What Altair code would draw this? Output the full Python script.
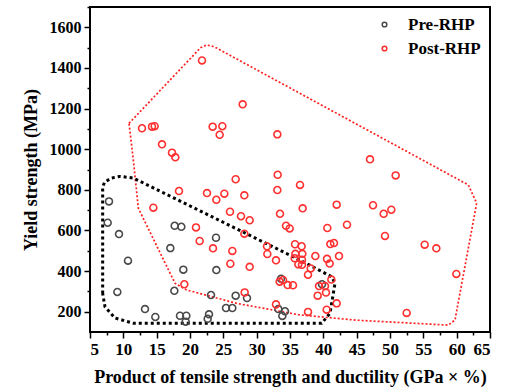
import altair as alt
import pandas as pd

# Pre-RHP samples: product of tensile strength and ductility (GPa·%) vs yield strength (MPa)
pre_pst = [7.85, 7.65, 9.35, 10.7, 9.1, 13.25, 14.8, 17.7, 18.7, 17.05, 19.0, 17.65,
           18.5, 19.45, 19.35, 23.9, 23.95, 23.15, 22.85, 22.65, 25.4, 26.35, 26.85,
           28.55, 33.65, 33.25, 34.25, 33.85, 39.8]
pre_ys = [743, 638, 582, 451, 297, 213, 174, 623, 618, 513, 407, 303,
          180, 180, 151, 564, 405, 282, 187, 165, 218, 218, 279,
          267, 362, 213, 202, 179, 335]

# Post-RHP samples
post_pst = [21.8, 27.9, 12.8, 14.3, 14.7, 23.4, 24.85, 24.45, 33.1, 15.8, 17.3, 17.8,
            33.15, 26.85, 18.35, 22.55, 25.15, 23.95, 28.15, 33.1, 36.5, 14.5, 26.0,
            27.65, 28.95, 33.5, 34.4, 34.95, 20.9, 21.45, 23.45, 26.35, 28.15, 26.05,
            28.95, 31.55, 31.6, 32.9, 35.75, 36.75, 35.8, 36.85, 35.7, 36.8, 36.25,
            36.8, 19.15, 28.2, 32.9, 33.45, 33.95, 34.65, 35.45, 36.9, 50.85, 42.0,
            47.45, 49.05, 50.2, 40.6, 43.55, 49.25, 41.05, 41.6, 38.8, 40.55, 40.95,
            42.35, 38.1, 37.7, 41.2, 39.35, 40.25, 40.4, 39.15, 42.0, 37.7, 40.5,
            52.5, 55.2, 56.95, 59.95, 47.0]
post_ys = [1437, 1221, 1103, 1111, 1113, 1111, 1113, 1071, 1073, 1024, 983, 960,
           874, 852, 794, 784, 781, 751, 773, 799, 824, 712, 692,
           670, 650, 682, 623, 610, 615, 548, 512, 499, 584, 436,
           421, 522, 484, 453, 532, 522, 485, 485, 463, 456, 433,
           431, 335, 295, 236, 348, 356, 331, 330, 709, 871, 727,
           724, 682, 702, 612, 628, 573, 533, 538, 474, 460, 437,
           474, 413, 382, 358, 326, 326, 294, 279, 241, 199, 210,
           194, 530, 512, 386, 950]

# Outline of the Pre-RHP region (closed path)
pre_hull_x = [6.9, 6.9, 7.2, 8.2, 9.5, 11.5, 36.5, 41.25, 41.75, 41.0, 39.75,
              11.5, 8.75, 7.25, 6.9]
pre_hull_y = [290, 815, 838, 858, 866, 858, 454, 372, 340, 192, 143,
              143, 169, 224, 290]

# Outline of the Post-RHP region (closed path)
post_hull_x = [10.85, 21.6, 22.5, 23.6, 61.75, 63.0, 59.75, 58.75, 45.0, 36.3,
               27.0, 19.5, 17.75, 12.25, 11.5, 10.85]
post_hull_y = [1127, 1500, 1513, 1505, 824, 734, 159, 134, 158, 185,
               241, 307, 340, 709, 947, 1127]

groups = ["Pre-RHP", "Post-RHP"]
colors = ["#4a4a4a", "#ff3030"]

points = pd.concat([
    pd.DataFrame({"pst": pre_pst, "ys": pre_ys, "group": groups[0]}),
    pd.DataFrame({"pst": post_pst, "ys": post_ys, "group": groups[1]}),
], ignore_index=True)

pre_hull = pd.DataFrame({"pst": pre_hull_x, "ys": pre_hull_y,
                         "order": range(len(pre_hull_x))})
post_hull = pd.DataFrame({"pst": post_hull_x, "ys": post_hull_y,
                          "order": range(len(post_hull_x))})

FONT = "Liberation Serif"

# major ticks carry labels, the ones in between are short minor ticks
x_ticks = [5 + 2.5 * i for i in range(25)]
y_ticks = [100 * i for i in range(2, 18)]

x_scale = alt.Scale(domain=[5, 65], nice=False, zero=False)
y_scale = alt.Scale(domain=[100, 1700], nice=False, zero=False)

x_axis = alt.Axis(
    title="Product of tensile strength and ductility (GPa × %)",
    values=x_ticks,
    labelExpr="datum.value % 5 == 0 ? format(datum.value, 'd') : ''",
    labelOverlap=False, labelSeparation=0, labelBound=False, labelFontSize=17,
    tickSize={"condition": {"test": "datum.value % 5 == 0", "value": 6}, "value": 3},
    grid=False, domain=False, labelPadding=3, titlePadding=11,
)
y_axis = alt.Axis(
    title="Yield strength (MPa)",
    values=y_ticks,
    labelExpr="datum.value % 200 == 0 ? format(datum.value, 'd') : ''",
    labelOverlap=False, labelSeparation=0, labelBound=False, labelFontSize=16,
    tickSize={"condition": {"test": "datum.value % 200 == 0", "value": 6}, "value": 3},
    grid=False, domain=False, labelPadding=3, titlePadding=9,
)

scatter = alt.Chart(points).mark_point(shape="circle", filled=False, size=48,
                                       strokeWidth=1.6, opacity=1).encode(
    x=alt.X("pst:Q", scale=x_scale, axis=x_axis),
    y=alt.Y("ys:Q", scale=y_scale, axis=y_axis),
    color=alt.Color("group:N",
                    scale=alt.Scale(domain=groups, range=colors),
                    legend=alt.Legend(title=None, orient="none", legendX=286, legendY=9,
                                      symbolSize=22, symbolStrokeWidth=1.5,
                                      labelFontSize=17, labelFont=FONT,
                                      labelFontWeight="bold", labelColor="black",
                                      labelOffset=15, rowPadding=6)),
)

pre_line = alt.Chart(pre_hull).mark_line(color="black", strokeWidth=3,
                                         strokeDash=[3, 3], clip=True).encode(
    x=alt.X("pst:Q", scale=x_scale, axis=x_axis),
    y=alt.Y("ys:Q", scale=y_scale, axis=y_axis),
    order="order:Q")

post_line = alt.Chart(post_hull).mark_line(color="#ff2020", strokeWidth=1.7,
                                           strokeDash=[2, 2], clip=True).encode(
    x=alt.X("pst:Q", scale=x_scale, axis=x_axis),
    y=alt.Y("ys:Q", scale=y_scale, axis=y_axis),
    order="order:Q")

chart = alt.layer(post_line, pre_line, scatter).properties(
    width=400, height=325,
    autosize=alt.AutoSizeParams(type="none"),
    padding={"left": 90, "top": 7, "right": 19, "bottom": 60},
).configure_view(stroke="black", strokeWidth=2).configure_axis(
    labelFont=FONT, labelFontWeight="bold", labelColor="black",
    titleFont=FONT, titleFontSize=18, titleFontWeight="bold", titleColor="black",
    tickColor="black", tickWidth=1.5, labelOverlap=False,
)

chart.save("out.html", embed_options={"renderer": "svg", "actions": False})
